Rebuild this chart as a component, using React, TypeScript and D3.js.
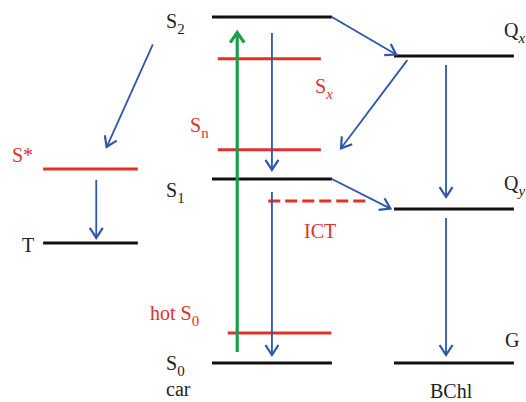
import React from 'react';
import * as d3 from 'd3';

const W = 526;
const H = 402;

// energy scale (arbitrary units): S0 = 0, S2 = 100
const levelIds = ['S2', 'Sx', 'Sn', 'S1', 'ICT', 'hotS0', 'S0', 'Qx', 'Qy', 'G', 'Sstar', 'T'];
const levelEnergy = [100, 87.9, 61.6, 53.2, 46.8, 8.7, 0, 88.7, 44.5, 0, 56.1, 34.7];
// horizontal extent of each level, in diagram units (0..100 across the picture)
const levelX0 = [40.3, 41.4, 41.4, 40.3, 51, 43.3, 40.3, 74.9, 74.9, 74.9, 8.2, 8.2];
const levelX1 = [63.1, 61, 61, 63.1, 70.3, 63, 63.1, 97.7, 97.7, 97.7, 26.2, 26.2];
const levelKind = ['main', 'red', 'red', 'main', 'dash', 'red', 'main', 'main', 'main', 'main', 'red', 'main'];

// arrows: from level -> to level, at x positions (diagram units)
const arrowFrom = ['S2', 'Sstar', 'S2', 'S2', 'Qx', 'Qx', 'S1', 'S1', 'Qy'];
const arrowTo = ['Sstar', 'T', 'Qx', 'S1', 'Sn', 'Qy', 'Qy', 'S0', 'G'];
const arrowX0 = [31.4, 18.3, 63.1, 51.7, 78, 84.8, 63.1, 51.7, 84.8];
const arrowX1 = [18.4, 18.3, 75.8, 51.7, 64.6, 84.8, 74.4, 51.7, 84.8];
const arrowGap0 = [30, 11, 0, 16, 5, 9, 0, 13, 9];
const arrowGap1 = [24, 5, 3, 9, 2, 12, 1, 8, 8];

const blue = '#2f55ad';
const red = '#e2312b';
const green = '#1c9e48';
const ink = '#222';

function Label({ x, y, main, sub, italicSub, color }: { x: number; y: number; main: string; sub?: string; italicSub?: boolean; color: string }) {
  return (
    <text className="lbl" x={x} y={y} fontSize={20} fill={color}>
      {main}
      {sub && (
        <tspan fontSize={15} dy={6} fontStyle={italicSub ? 'italic' : 'normal'}>
          {sub}
        </tspan>
      )}
    </text>
  );
}

export default function App() {
  const x = d3.scaleLinear().domain([0, 100]).range([0, W]);
  const y = d3.scaleLinear().domain([0, 100]).range([363, 17]);
  const yOf = (id: string) => y(levelEnergy[levelIds.indexOf(id)]);

  const head = (tx: number, ty: number, ang: number, len: number, half: number) => {
    const c = Math.cos(ang), s = Math.sin(ang);
    const bx = tx - c * len, by = ty - s * len;
    return `M${bx - s * half},${by + c * half}L${tx},${ty}L${bx + s * half},${by - c * half}`;
  };

  return (
    <svg width={W} height={H} style={{ position: 'absolute', left: 0, top: 0, background: '#fff' }}>
      <style>{`text.lbl, text.lbl tspan { font-family: "Liberation Serif", serif !important; }`}</style>
      {levelIds.map((id, i) => (
        <line
          key={id}
          x1={x(levelX0[i])}
          x2={x(levelX1[i])}
          y1={y(levelEnergy[i])}
          y2={y(levelEnergy[i])}
          stroke={levelKind[i] === 'main' ? '#111' : red}
          strokeWidth={3}
          strokeDasharray={levelKind[i] === 'dash' ? '12,5' : undefined}
        />
      ))}

      {arrowFrom.map((f, i) => {
        const x0 = x(arrowX0[i]);
        const x1 = x(arrowX1[i]);
        const y0 = yOf(f);
        const y1 = yOf(arrowTo[i]);
        const ang = Math.atan2(y1 - y0, x1 - x0);
        const ux = Math.cos(ang), uy = Math.sin(ang);
        const sx = x0 + ux * arrowGap0[i];
        const sy = y0 + uy * arrowGap0[i];
        const ex = x1 - ux * arrowGap1[i];
        const ey = y1 - uy * arrowGap1[i];
        return (
          <g key={i} stroke={blue} fill="none" strokeWidth={1.8}>
            <line x1={sx} y1={sy} x2={ex} y2={ey} />
            <path d={head(ex, ey, ang, 10, 6.5)} strokeWidth={2.2} strokeLinejoin="miter" />
          </g>
        );
      })}

      {/* excitation S0 -> S2 */}
      <g stroke={green} fill="none" strokeWidth={3.2}>
        <line x1={x(45.1)} x2={x(45.1)} y1={y(3.2)} y2={y(95.5)} />
        <path d={head(x(45.1), y(95.5), -Math.PI / 2, 10, 7)} strokeWidth={3.2} />
      </g>

      <Label x={166} y={28} main="S" sub="2" color={ink} />
      <Label x={166} y={197} main="S" sub="1" color={ink} />
      <Label x={166} y={370} main="S" sub="0" color={ink} />
      <Label x={166} y={396} main="car" color={ink} />
      <Label x={430} y={398} main="BChl" color={ink} />
      <Label x={22} y={252} main="T" color={ink} />
      <Label x={504} y={37} main="Q" sub="x" italicSub color={ink} />
      <Label x={504} y={190} main="Q" sub="y" italicSub color={ink} />
      <Label x={505} y={347} main="G" color={ink} />

      <Label x={12} y={162} main="S*" color={red} />
      <Label x={190} y={132} main="S" sub="n" color={red} />
      <Label x={315} y={93} main="S" sub="x" italicSub color={red} />
      <Label x={150} y={320} main="hot S" sub="0" color={red} />
      <Label x={304} y={238} main="ICT" color={red} />
    </svg>
  );
}
